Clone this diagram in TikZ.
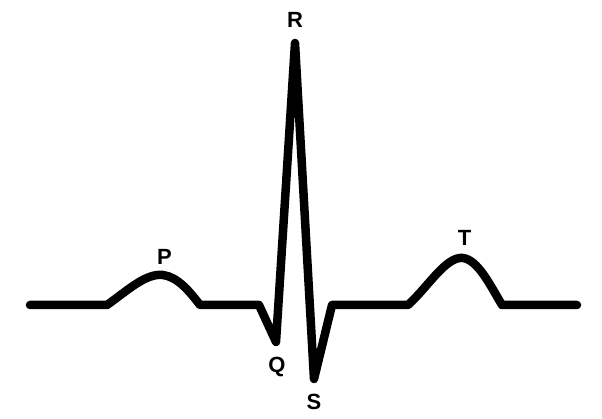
\documentclass[tikz,border=0pt]{standalone}
\usepackage{fontspec}
\setmainfont{Liberation Sans}
\begin{document}
\begin{tikzpicture}[x=1pt,y=-1pt,
  wave/.style={line width=8.5pt,line cap=round,line join=round,black},
  lbl/.style={font=\fontsize{22}{24}\selectfont\bfseries,inner sep=0pt}]
\useasboundingbox (0,0) rectangle (602,419);
\draw[wave] (30,305) -- (107,305)
  .. controls (128,290) and (146,273) .. (163,275)
  .. controls (178,277) and (190,292) .. (200,305)
  -- (259,305) -- (276,342) -- (295,43) -- (314,379) -- (332,305) -- (408,305)
  .. controls (428,287) and (446,256) .. (463,258)
  .. controls (478,260) and (490,285) .. (502,305)
  -- (577,305);
\node[lbl] (R) at (295,20) {R};
\node[lbl] (P) at (164.5,256.5) {P};
\node[lbl] (Q) at (277,366.5) {Q};
\node[lbl] (S) at (314,402) {S};
\node[lbl] (T) at (464.5,237.5) {T};
\end{tikzpicture}
\end{document}
